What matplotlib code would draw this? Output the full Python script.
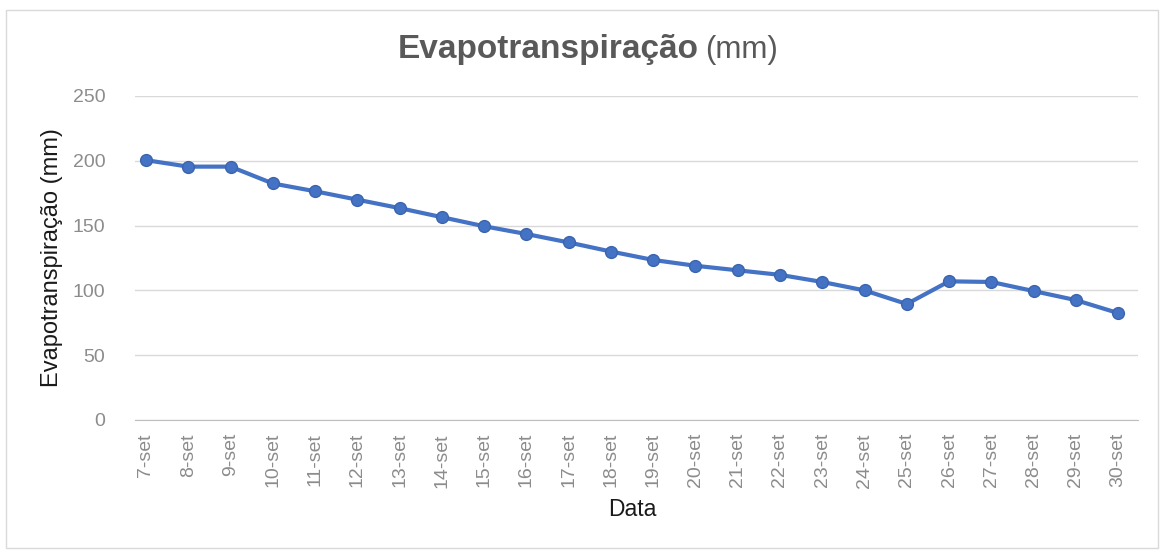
import matplotlib
matplotlib.use("Agg")
import matplotlib.pyplot as plt
from matplotlib.patches import Rectangle

dates = [f"{d}-set" for d in range(7, 31)]
et_mm = [200.5, 195.5, 195.5, 182.5, 176.5, 170, 163.5, 156.5, 149.5, 143.5,
         137, 130, 123.5, 119, 115.5, 112, 106.5, 100, 89.5, 107, 106.5, 99.5, 92.5, 82.5]
yticks = [0, 50, 100, 150, 200, 250]

plt.rcParams['font.family'] = ['Liberation Sans', 'DejaVu Sans']

W, H = 1165, 552
fig = plt.figure(figsize=(W / 100, H / 100), dpi=100)
fig.patch.set_facecolor('white')
fig.patches.append(Rectangle((6 / W, 4 / H), 1152 / W, 538 / H, transform=fig.transFigure,
                             fill=False, edgecolor='#d9d9d9', linewidth=1.0))

ax = fig.add_axes([135 / W, 1 - 420 / H, (1138 - 135) / W, (420 - 96) / H])
x = list(range(len(dates)))
ax.plot(x, et_mm, color='#4472C4', linewidth=3, marker='o', markersize=8.5,
        markerfacecolor='#4472C4', markeredgecolor='#3b64ad', zorder=3)

ax.set_ylim(0, 250)
ax.set_xlim(-0.26, 23.47)
ax.set_yticks(yticks)
ax.set_xticks(x)
ax.set_xticklabels(dates, rotation=90, fontsize=14, color='#8c8c8c')
ax.tick_params(axis='y', labelsize=14, colors='#8c8c8c', length=0, pad=21.5)
ax.tick_params(axis='x', length=0, pad=9.4)
ax.grid(axis='y', color='#d9d9d9', linewidth=1)
ax.set_axisbelow(True)
for s in ['top', 'right', 'left']:
    ax.spines[s].set_visible(False)
ax.spines['bottom'].set_color('#bfbfbf')

fig.text(52 / W, 1 - 258 / H, 'Evapotranspiração (mm)', rotation=90, ha='center', va='center',
         fontsize=17, color='#1a1a1a')
fig.text(632 / W, 1 - 510 / H, 'Data', ha='center', va='center', fontsize=16.5, color='#1a1a1a')

fig.text(699 / W, 1 - 58 / H, 'Evapotranspiração', ha='right', va='baseline',
         fontsize=24, fontweight='bold', color='#595959')
fig.text(705 / W, 1 - 58 / H, '(mm)', ha='left', va='baseline',
         fontsize=22.5, color='#595959')

fig.savefig('out.png', dpi=100, facecolor='white')
